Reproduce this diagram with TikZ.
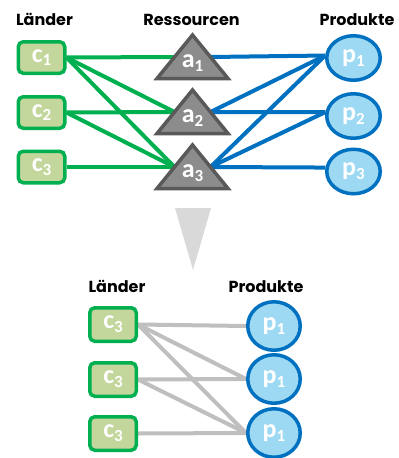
\documentclass[tikz,border=0pt]{standalone}
\usepackage{fontspec}
\setmainfont{Carlito}
\newfontfamily\labelfont{Carlito Bold}
\newfontfamily\headfont{Poppins}
\usetikzlibrary{shapes.geometric,backgrounds}
\definecolor{gfill}{HTML}{C3D69B}
\definecolor{gline}{HTML}{00B050}
\definecolor{bfill}{HTML}{9DD9F3}
\definecolor{bline}{HTML}{0070C0}
\definecolor{tfill}{HTML}{8C8C8C}
\definecolor{tline}{HTML}{595959}
\definecolor{grayline}{HTML}{BFBFBF}
\definecolor{downfill}{HTML}{D9D9D9}
\definecolor{labtext}{HTML}{FFFFFF}
\newcommand\lab[2]{#1\raisebox{-0.3ex}{\fontsize{17}{17}\selectfont #2}}
\begin{document}
\begin{tikzpicture}[x=1pt,y=-1pt,
 header/.style={font=\headfont\bfseries\fontsize{16}{16}\selectfont, anchor=base, inner sep=0pt},
 labfont/.style={text=labtext, font=\labelfont\fontsize{26}{26}\selectfont},
 land/.style={draw=gline, fill=gfill, line width=3.5pt, rounded corners=5pt, minimum width=46.5pt, minimum height=31.5pt, inner sep=0pt, labfont},
 prod/.style={ellipse, draw=bline, fill=bfill, line width=3.5pt, minimum width=53.5pt, minimum height=44.5pt, inner sep=0pt, labfont},
 bprod/.style={prod, minimum width=52.5pt, minimum height=48.5pt},
 bland/.style={land, minimum height=33.5pt},
 res/.style={draw=tline, fill=tfill, line width=3.5pt},
 ge/.style={draw=gline, line width=4pt},
 be/.style={draw=bline, line width=4pt},
 ye/.style={draw=grayline, line width=4pt},
]
\useasboundingbox (0,0) rectangle (399,458);
% headers
\node[header] (h1) at (44.5,25) {Länder};
\node[header] (h2) at (191.5,25) {Ressourcen};
\node[header] (h3) at (357,25) {Produkte};
% countries
\node[land] (c1) at (41.5,57.5) {\lab{c}{1}};
\node[land] (c2) at (41.5,112.5) {\lab{c}{2}};
\node[land] (c3) at (41.5,167) {\lab{c}{3}};
% products
\node[prod] (p1) at (353.5,58) {\lab{p}{1}};
\node[prod] (p2) at (353.5,116) {\lab{p}{2}};
\node[prod] (p3) at (353.5,171.5) {\lab{p}{3}};
% resources
\foreach \i/\dy in {1/0,2/55,3/110}{
  \draw[res] (157,78.5+\dy) -- (192.5,35+\dy) -- (228,78.5+\dy) -- cycle;
  \node[labfont, inner sep=0pt] (a\i) at (192.5,63+\dy) {\lab{a}{\i}};
  \coordinate (a\i w) at (174.5,57+\dy);
  \coordinate (a\i e) at (210.5,57+\dy);
}
\begin{scope}[on background layer]
% green edges
\draw[ge] (c1.east) -- (a1w);
\draw[ge] (c1.east) -- (a2w);
\draw[ge] (c1.east) -- (a3w);
\draw[ge] (c2.east) -- (a2w);
\draw[ge] (c2.east) -- (a3w);
\draw[ge] (c3.east) -- (a3w);
% blue edges
\draw[be] (a1e) -- (p1.175);
\draw[be] (a2e) -- (p1.175);
\draw[be] (a2e) -- (p2.172);
\draw[be] (a3e) -- (p1.175);
\draw[be] (a3e) -- (p2.172);
\draw[be] (a3e) -- (p3.172);
\end{scope}
% down arrow
\fill[downfill] (175,208) -- (211,208) -- (193,270) -- cycle;
% bottom
\node[header] (h4) at (117,292) {Länder};
\node[header] (h5) at (266,292) {Produkte};
\node[bland] (d1) at (113,324.5) {\lab{c}{3}};
\node[bland] (d2) at (113,379.5) {\lab{c}{3}};
\node[bland] (d3) at (113,433.5) {\lab{c}{3}};
\node[bprod] (q1) at (274,326) {\lab{p}{1}};
\node[bprod] (q2) at (274,379) {\lab{p}{1}};
\node[bprod] (q3) at (274,433) {\lab{p}{1}};
\begin{scope}[on background layer]
\draw[ye] (d1.east) -- (q1.west);
\draw[ye] (d1.east) -- (q2.west);
\draw[ye] (d1.east) -- (q3.west);
\draw[ye] (d2.east) -- (q2.west);
\draw[ye] (d2.east) -- (q3.west);
\draw[ye] (d3.east) -- (q3.west);
\end{scope}
\end{tikzpicture}
\end{document}
